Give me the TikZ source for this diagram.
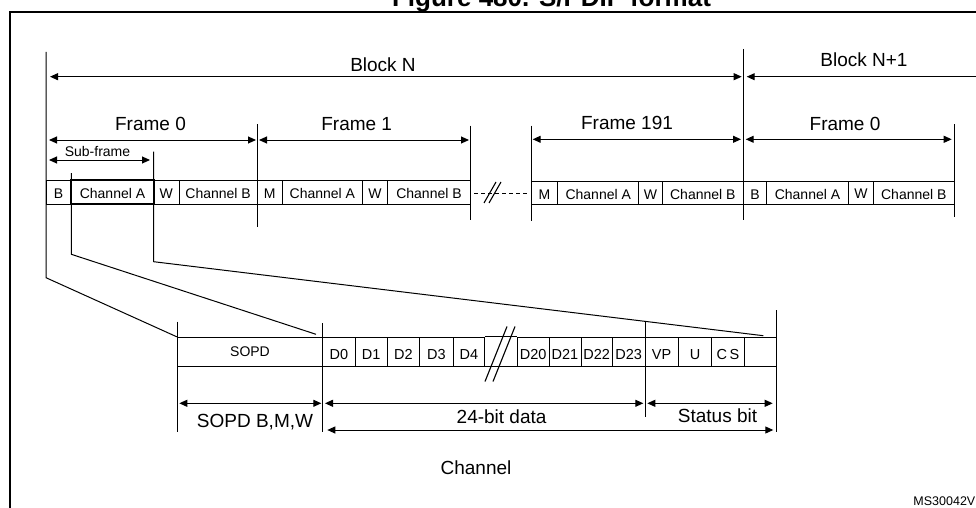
\documentclass[tikz,border=0pt]{standalone}
\usepackage{fontspec}
\setmainfont{Liberation Sans}
\usetikzlibrary{arrows.meta}
\newcommand\mkcell[7]{\node[cell,#7,minimum width={(#3-#2)*1pt},minimum height={#5*1pt}] (#1) at ({(#2+#3)/2},#4) {#6};}
\begin{document}
\begin{tikzpicture}[x=1pt,y=-1pt,
  ln/.style={line width=1pt},
  dim/.style={line width=1pt,{Triangle[length=8pt,width=7pt]}-{Triangle[length=8pt,width=7pt]}},
  lbl/.style={font=\fontsize{19}{22}\selectfont,anchor=base,inner sep=0pt},
  sml/.style={font=\fontsize{14}{16}\selectfont,anchor=base,inner sep=0pt},
  cell/.style={draw,line width=1pt,inner sep=0pt,font=\fontsize{14}{16}\selectfont,text depth=0pt},
  toprow/.style={text height=12.6pt},
  botrow/.style={text height=16.6pt,font=\fontsize{14.5}{16}\selectfont},
  sopdrow/.style={text height=10.6pt}]
\useasboundingbox (0,0) rectangle (976,508);
% outer frame
\draw[line width=2pt] (9.5,530) -- (9.5,12) -- (990,12);
\node[anchor=base,inner sep=0pt,font=\fontsize{26}{30}\selectfont\bfseries] (title) at (551.5,7) {Figure 480. S/PDIF format};
% top row cells, frames 0 and 1
\mkcell{b0}{46}{71.3}{192}{24}{B}{toprow}
\mkcell{a0}{71.3}{153.7}{192}{24}{Channel A}{toprow,line width=1.8pt}
\mkcell{w0}{153.7}{179}{192}{24}{W}{toprow}
\mkcell{c0}{179}{257.3}{192}{24}{Channel B}{toprow}
\mkcell{m1}{257.3}{282}{192}{24}{M}{toprow}
\mkcell{a1}{282}{362.7}{192}{24}{Channel A}{toprow}
\mkcell{w1}{362.7}{387.3}{192}{24}{W}{toprow}
\mkcell{c1}{387.3}{470.7}{192}{24}{Channel B}{toprow}
% frames 191 and 0'
\mkcell{m9}{531}{557.7}{192.85}{22.3}{M}{toprow}
\mkcell{a9}{557.7}{638.8}{192.85}{22.3}{Channel A}{toprow}
\mkcell{w9}{638.8}{662.3}{192.85}{22.3}{W}{toprow}
\mkcell{c9}{662.3}{743.3}{192.85}{22.3}{Channel B}{toprow}
\mkcell{bn}{743.3}{766.7}{192.85}{22.3}{B}{toprow}
\mkcell{an}{766.7}{848.3}{192.85}{22.3}{Channel A}{toprow}
\mkcell{wn}{848.3}{873.6}{192.85}{22.3}{W}{toprow,text height=11pt}
\mkcell{cn}{873.6}{954}{192.85}{22.3}{Channel B}{toprow,text height=13.6pt}
% dashed break
\draw[ln,dash pattern=on 4pt off 3pt] (474,193.3) coordinate (dsL) -- (529,193.3) coordinate (dsR);
\draw[line width=1.1pt] (484,203) coordinate (s1a) -- (496,182) coordinate (s1b);
\draw[line width=1.1pt] (489,203) coordinate (s2a) -- (501,182) coordinate (s2b);
% vertical marker lines (top)
\coordinate (v0t) at (46,52);   \coordinate (v0b) at (46,277.7);
\coordinate (v1t) at (71.3,173); \coordinate (v1b) at (71.3,254.3);
\coordinate (v2t) at (153.7,151.7); \coordinate (v2b) at (153.7,261.7);
\draw[ln] (257.3,124) coordinate (v3t) -- (257.3,227) coordinate (v3b);
\draw[ln] (470.7,125.7) coordinate (v4t) -- (470.7,220) coordinate (v4b);
\draw[ln] (531,125.7) coordinate (v5t) -- (531,221) coordinate (v5b);
\draw[ln] (743.3,49) coordinate (v6t) -- (743.3,220) coordinate (v6b);
\draw[ln] (954,124.3) coordinate (v7t) -- (954,217) coordinate (v7b);
% dimension arrows (top)
\draw[dim] (50,76.7) coordinate (bnl) -- (741.7,76.7) coordinate (bnr);
\draw[ln,{Triangle[length=8pt,width=7pt]}-] (746.7,76.7) coordinate (bn1l) -- (990,76.7) coordinate (bn1r);
\draw[dim] (49,140) coordinate (f0l) -- (256,140) coordinate (f0r);
\draw[dim] (259,140) coordinate (f1l) -- (469,140) coordinate (f1r);
\draw[dim] (532.7,139.3) coordinate (f9l) -- (741,139.3) coordinate (f9r);
\draw[dim] (745.7,139.3) coordinate (fnl) -- (951.7,139.3) coordinate (fnr);
\draw[dim] (49,160) coordinate (sfl) -- (150,160) coordinate (sfr);
% labels (top)
\node[lbl] (lblN) at (383,71.7) {Block N};
\node[lbl] (lblN1) at (864,66.7) {Block N+1};
\node[lbl] (lblF0) at (150.5,130.7) {Frame 0};
\node[lbl] (lblF1) at (356.7,130.7) {Frame 1};
\node[lbl] (lblF9) at (627,129.5) {Frame 191};
\node[lbl] (lblFn) at (845,130) {Frame 0};
\node[sml] (lblSF) at (97.5,156) {Sub-frame};
% bottom row cells
\mkcell{sopd}{177.3}{322.7}{351.65}{28.7}{SOPD}{sopdrow}
\mkcell{d0}{322.7}{355}{351.65}{28.7}{D0}{botrow}
\mkcell{d1}{355}{387.3}{351.65}{28.7}{D1}{botrow}
\mkcell{d2}{387.3}{419.3}{351.65}{28.7}{D2}{botrow}
\mkcell{d3}{419.3}{453.3}{351.65}{28.7}{D3}{botrow}
\mkcell{d4}{453.3}{484.3}{351.65}{28.7}{D4}{botrow}
\mkcell{d20}{517.3}{549}{351.65}{28.7}{D20}{botrow}
\mkcell{d21}{549}{581}{351.65}{28.7}{D21}{botrow}
\mkcell{d22}{581}{612.3}{351.65}{28.7}{D22}{botrow}
\mkcell{d23}{612.3}{645}{351.65}{28.7}{D23}{botrow}
\mkcell{vp}{645}{678.3}{351.65}{28.7}{VP}{botrow}
\mkcell{u}{678.3}{711.7}{351.65}{28.7}{U}{botrow}
\mkcell{cs}{711.7}{744.3}{351.65}{28.7}{C\,S}{botrow}
\mkcell{blank}{744.3}{776}{351.65}{28.7}{}{}
\draw[ln] (d4.north east) -- (d20.north west);
\draw[ln] (d4.south east) -- (d20.south west);
\draw[line width=1.1pt] (485,381.5) coordinate (g1a) -- (507,326.5) coordinate (g1b);
\draw[line width=1.1pt] (493,381.5) coordinate (g2a) -- (515,326.5) coordinate (g2b);
% fan-out lines
\draw[ln] (v0t) -- (v0b) -- (sopd.north west);
\draw[ln] (v1t) -- (v1b) -- (316,334.3) coordinate (e1);
\draw[ln] (v2t) -- (v2b) -- (763.3,335.7) coordinate (e2);
% bottom vertical lines
\draw[ln] (177.3,321.7) coordinate (w1t) -- (177.3,431.7) coordinate (w1b);
\draw[ln] (322.7,323) coordinate (w2t) -- (322.7,431.7) coordinate (w2b);
\draw[ln] (645,321.7) coordinate (w3t) -- (645,417.3) coordinate (w3b);
\draw[ln] (776,310) coordinate (w4t) -- (776,431.7) coordinate (w4b);
% bottom dimension arrows
\draw[dim] (179.3,403.3) coordinate (sbl) -- (321.3,403.3) coordinate (sbr);
\draw[dim] (325,403.3) coordinate (dbl) -- (643.3,403.3) coordinate (dbr);
\draw[dim] (647.3,403.3) coordinate (stl) -- (772.7,403.3) coordinate (str);
\draw[dim] (327.3,430) coordinate (chl) -- (773.3,430) coordinate (chr);
% bottom labels
\node[lbl] (lblS) at (255,427.3) {SOPD B,M,W};
\node[lbl] (lblD) at (501.6,423) {24-bit data};
\node[lbl] (lblSt) at (717.5,422.7) {Status bit};
\node[lbl] (lblCh) at (476,474) {Channel};
\node[anchor=base east,inner sep=0pt,font=\fontsize{12.5}{14}\selectfont] (code) at (975.5,505.5) {MS30042V};
\end{tikzpicture}
\end{document}
